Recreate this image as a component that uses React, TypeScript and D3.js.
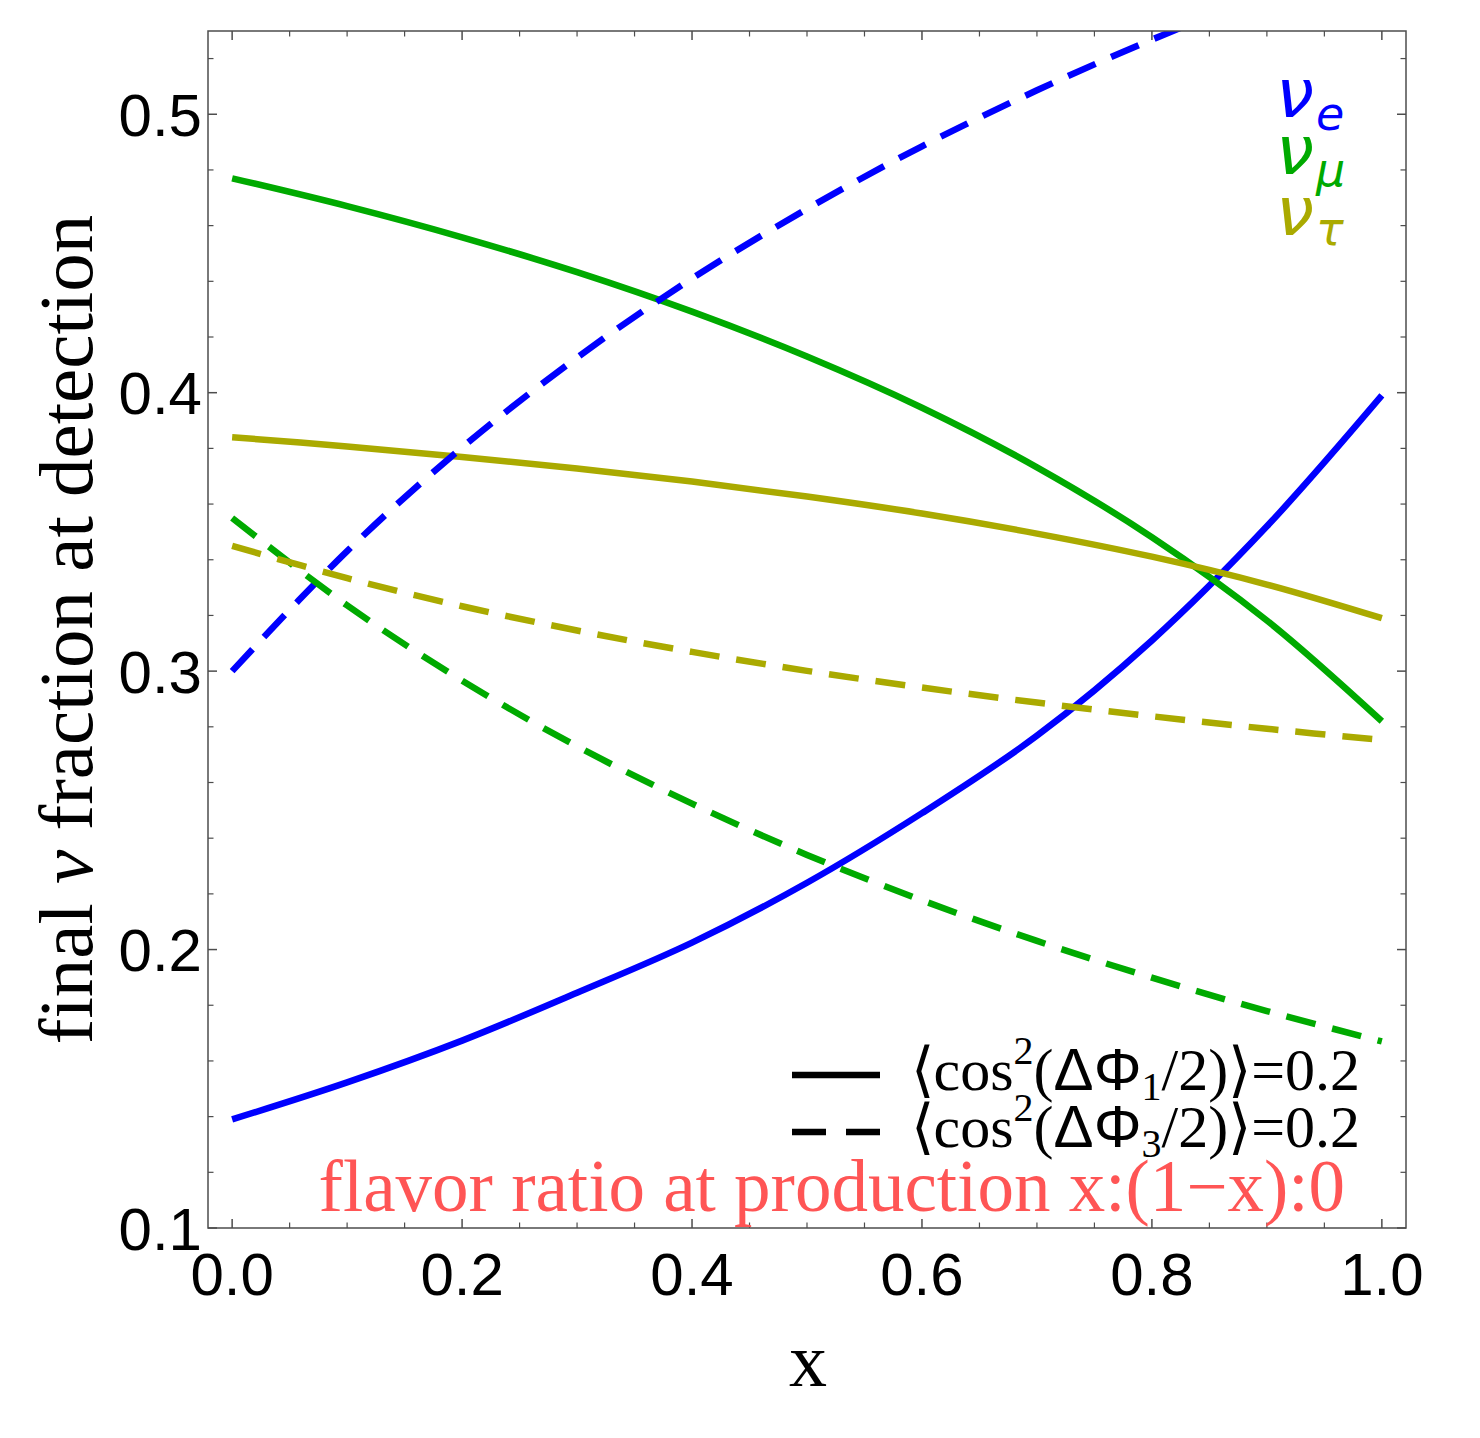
import React from 'react';
import * as d3 from 'd3';

// ---- data ----
const xValues = [0, 0.1, 0.2, 0.3, 0.4, 0.5, 0.6, 0.7, 0.8, 0.9, 1.0];
const nuESolid = [0.139, 0.1523, 0.1673, 0.1845, 0.2025, 0.224, 0.249, 0.2768, 0.311, 0.352, 0.399];
const nuMuSolid = [0.477, 0.467, 0.4558, 0.4433, 0.4291, 0.413, 0.3946, 0.3732, 0.3481, 0.3182, 0.282];
const nuTauSolid = [0.384, 0.3807, 0.3769, 0.3728, 0.3681, 0.3627, 0.3566, 0.3494, 0.3411, 0.3311, 0.319];
const nuEDashed = [0.3, 0.3431, 0.3803, 0.4126, 0.441, 0.466, 0.4885, 0.5086, 0.5268, 0.5432, 0.558];
const nuMuDashed = [0.355, 0.3236, 0.2966, 0.273, 0.2524, 0.234, 0.2177, 0.2031, 0.1899, 0.1779, 0.167];
const nuTauDashed = [0.345, 0.3334, 0.3233, 0.3146, 0.3069, 0.3001, 0.2941, 0.2887, 0.2838, 0.2793, 0.2753];

const xMajorTicks = [0, 0.2, 0.4, 0.6, 0.8, 1.0];
const xTickLabels = ['0.0', '0.2', '0.4', '0.6', '0.8', '1.0'];
const yMajorTicks = [0.1, 0.2, 0.3, 0.4, 0.5];
const yTickLabels = ['0.1', '0.2', '0.3', '0.4', '0.5'];

const BLUE = '#0000ff';
const GREEN = '#00aa00';
const OLIVE = '#aaaa00';
const SALMON = '#ff5555';

const series = [
  { values: nuESolid, color: BLUE, dashed: false },
  { values: nuMuSolid, color: GREEN, dashed: false },
  { values: nuTauSolid, color: OLIVE, dashed: false },
  { values: nuEDashed, color: BLUE, dashed: true },
  { values: nuMuDashed, color: GREEN, dashed: true },
  { values: nuTauDashed, color: OLIVE, dashed: true },
];

export default function App() {
  const L = 208, R = 1406, T = 31, B = 1228;
  const x = d3.scaleLinear().domain([-0.021, 1.021]).range([L, R]);
  const y = d3.scaleLinear().domain([0.1, 0.5299]).range([B, T]);

  const line = d3
    .line<[number, number]>()
    .x((d) => x(d[0]))
    .y((d) => y(d[1]))
    .curve(d3.curveCatmullRom.alpha(0.5));

  const xMinor = d3.range(0, 1.0001, 0.05).filter((v) => !xMajorTicks.some((m) => Math.abs(m - v) < 1e-6));
  const yMinor = d3.range(0.1, 0.5299, 0.02).filter((v) => !yMajorTicks.some((m) => Math.abs(m - v) < 1e-6));

  const frame = '#4d4d4d';
  const majorLen = 9;
  const minorLen = 5.5;

  return (
    <svg
      width={1480}
      height={1438}
      style={{ position: 'absolute', left: 0, top: 0, background: '#fff' }}
      xmlns="http://www.w3.org/2000/svg"
    >
      <defs>
        <clipPath id="plotClip">
          <rect x={L} y={T} width={R - L} height={B - T} />
        </clipPath>
      </defs>
      <rect x={0} y={0} width={1480} height={1438} fill="#fff" />

      {/* curves */}
      <g clipPath="url(#plotClip)">
        {series.map((s, i) => (
          <path
            key={i}
            d={line(xValues.map((xv, j) => [xv, s.values[j]]) as [number, number][]) || ''}
            fill="none"
            stroke={s.color}
            strokeWidth={6.5}
            strokeDasharray={s.dashed ? '30 17' : undefined}
          />
        ))}
      </g>

      {/* frame */}
      <rect x={L} y={T} width={R - L} height={B - T} fill="none" stroke={frame} strokeWidth={1.5} />

      {/* x ticks */}
      {xMajorTicks.map((v) => (
        <g key={'xM' + v}>
          <line x1={x(v)} x2={x(v)} y1={B} y2={B - majorLen} stroke={frame} strokeWidth={1.5} />
          <line x1={x(v)} x2={x(v)} y1={T} y2={T + majorLen} stroke={frame} strokeWidth={1.5} />
        </g>
      ))}
      {xMinor.map((v) => (
        <g key={'xm' + v}>
          <line x1={x(v)} x2={x(v)} y1={B} y2={B - minorLen} stroke={frame} strokeWidth={1.2} />
          <line x1={x(v)} x2={x(v)} y1={T} y2={T + minorLen} stroke={frame} strokeWidth={1.2} />
        </g>
      ))}
      {/* y ticks */}
      {yMajorTicks.map((v) => (
        <g key={'yM' + v}>
          <line x1={L} x2={L + majorLen} y1={y(v)} y2={y(v)} stroke={frame} strokeWidth={1.5} />
          <line x1={R} x2={R - majorLen} y1={y(v)} y2={y(v)} stroke={frame} strokeWidth={1.5} />
        </g>
      ))}
      {yMinor.map((v) => (
        <g key={'ym' + v}>
          <line x1={L} x2={L + minorLen} y1={y(v)} y2={y(v)} stroke={frame} strokeWidth={1.2} />
          <line x1={R} x2={R - minorLen} y1={y(v)} y2={y(v)} stroke={frame} strokeWidth={1.2} />
        </g>
      ))}

      {/* tick labels */}
      <g fontFamily="'Liberation Sans', Arial, sans-serif" fontSize={60} fill="#000">
        {xMajorTicks.map((v, i) => (
          <text key={'xl' + v} x={x(v)} y={1295} textAnchor="middle">
            {xTickLabels[i]}
          </text>
        ))}
        {yMajorTicks.map((v, i) => (
          <text key={'yl' + v} x={202} y={y(v) + 21.5} textAnchor="end">
            {yTickLabels[i]}
          </text>
        ))}
      </g>

      {/* axis titles */}
      <text
        x={808}
        y={1386}
        textAnchor="middle"
        fontFamily="'Liberation Serif', 'Times New Roman', serif"
        fontSize={76}
        fill="#000"
      >
        x
      </text>
      <text
        transform={`translate(92, ${(T + B) / 2}) rotate(-90)`}
        textAnchor="middle"
        fontFamily="'Liberation Serif', 'Times New Roman', serif"
        fontSize={77}
        fill="#000"
      >
        final <tspan fontStyle="italic">ν</tspan> fraction at detection
      </text>

      {/* flavor labels */}
      <g fontFamily="'DejaVu Sans', sans-serif" fontStyle="italic">
        <text x={1276} y={117} fill={BLUE} fontSize={68}>
          ν<tspan fontSize={46} dx={2} dy={13}>e</tspan>
        </text>
        <text x={1276} y={174} fill={GREEN} fontSize={68}>
          ν<tspan fontSize={46} dx={2} dy={12}>μ</tspan>
        </text>
        <text x={1276} y={235} fill={OLIVE} fontSize={68}>
          ν<tspan fontSize={46} dx={2} dy={10}>τ</tspan>
        </text>
      </g>

      {/* legend */}
      <line x1={792} x2={880} y1={1075} y2={1075} stroke="#000" strokeWidth={6.5} />
      <line x1={792} x2={880} y1={1132} y2={1132} stroke="#000" strokeWidth={6.5} strokeDasharray="34 20" />
      <g fontFamily="'Liberation Serif', 'Times New Roman', serif" fontSize={60} fill="#000">
        <text x={1360} y={1090} textAnchor="end">
          ⟨cos<tspan fontSize={40} dy={-26}>2</tspan>
          <tspan dy={26}>(</tspan>
          <tspan fontFamily="'Liberation Sans', Arial, sans-serif">ΔΦ</tspan>
          <tspan fontSize={40} dy={10}>1</tspan>
          <tspan dy={-10}>/2)⟩=0.2</tspan>
        </text>
        <text x={1360} y={1147} textAnchor="end">
          ⟨cos<tspan fontSize={40} dy={-26}>2</tspan>
          <tspan dy={26}>(</tspan>
          <tspan fontFamily="'Liberation Sans', Arial, sans-serif">ΔΦ</tspan>
          <tspan fontSize={40} dy={10}>3</tspan>
          <tspan dy={-10}>/2)⟩=0.2</tspan>
        </text>
      </g>
      <text
        x={1345}
        y={1211}
        textAnchor="end"
        fontFamily="'Liberation Serif', 'Times New Roman', serif"
        fontSize={73}
        fill={SALMON}
      >
        flavor ratio at production x:(1−x):0
      </text>
    </svg>
  );
}
